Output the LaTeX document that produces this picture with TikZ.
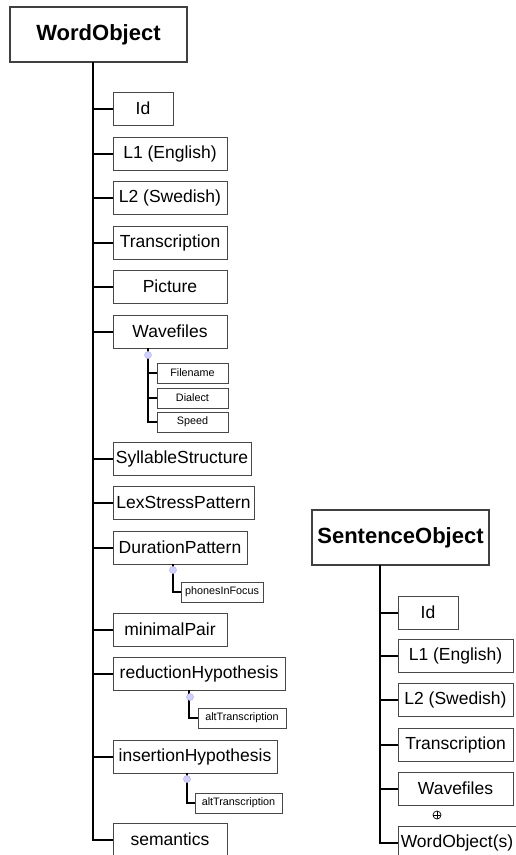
\documentclass[tikz,border=0pt]{standalone}
\usepackage{fontspec}
\setmainfont{Liberation Sans}
\usetikzlibrary{positioning,calc}
\tikzset{
  root/.style={draw=black!75, line width=1.2pt, outer sep=0pt, font=\fontsize{22}{26}\selectfont\bfseries, minimum width=177pt, minimum height=55pt, inner sep=2pt},
  field/.style={draw=black!72, line width=1pt, outer sep=0pt, font=\fontsize{17.5}{20}\selectfont, minimum height=33pt, inner sep=1pt},
  subfield/.style={draw=black!72, line width=0.8pt, outer sep=0pt, font=\fontsize{10.8}{12}\selectfont, minimum height=20pt, inner sep=1pt},
  trunk/.style={line width=2pt},
  twig/.style={line width=1.5pt},
  hint/.style={circle, fill=blue!18, draw=blue!30, line width=0.5pt, minimum size=7pt, inner sep=0pt},
  more/.style={circle, draw, line width=0.7pt, minimum size=8pt, inner sep=0pt,
    path picture={\draw[line width=0.6pt] (path picture bounding box.north) -- (path picture bounding box.south)
      (path picture bounding box.west) -- (path picture bounding box.east);}},
}
\begin{document}
\begin{tikzpicture}[x=1pt, y=-1pt]
  \useasboundingbox (0,0) rectangle (516,855);
  \clip (0,0) rectangle (516,855);
  % word object
  \node[root, anchor=north west] (word) at (10,7) {WordObject};
  \node[field, anchor=north west, minimum width=60pt] (id) at (113,92) {Id};
  \node[field, below=12pt of id.south west, anchor=north west, minimum width=114pt] (l1) {L1 (English)};
  \node[field, below=11pt of l1.south west, anchor=north west, minimum width=114pt] (l2) {L2 (Swedish)};
  \node[field, below=12pt of l2.south west, anchor=north west, minimum width=114pt] (trans) {Transcription};
  \node[field, below=11pt of trans.south west, anchor=north west, minimum width=114pt] (pic) {Picture};
  \node[field, below=12pt of pic.south west, anchor=north west, minimum width=114pt] (wave) {Wavefiles};
  \node[subfield, below right=15pt and 44pt of wave.south west, minimum width=71pt] (fname) {Filename};
  \node[subfield, below=5pt of fname, minimum width=71pt] (dialect) {Dialect};
  \node[subfield, below=4pt of dialect, minimum width=71pt] (speed) {Speed};
  \node[field, below=94pt of wave.south west, anchor=north west, minimum width=138pt] (syll) {SyllableStructure};
  \node[field, below=11pt of syll.south west, anchor=north west, minimum width=141pt] (lex) {LexStressPattern};
  \node[field, below=12pt of lex.south west, anchor=north west, minimum width=134pt] (dur) {DurationPattern};
  \node[subfield, below right=18pt and 68pt of dur.south west, minimum width=82pt] (phones) {phonesInFocus};
  \node[field, below=49pt of dur.south west, anchor=north west, minimum width=114pt] (minpair) {minimalPair};
  \node[field, below=11pt of minpair.south west, anchor=north west, minimum width=172pt] (red) {reductionHypothesis};
  \node[subfield, below right=18pt and 85pt of red.south west, minimum width=88pt] (redalt) {altTranscription};
  \node[field, below=50pt of red.south west, anchor=north west, minimum width=164pt] (ins) {insertionHypothesis};
  \node[subfield, below right=20pt and 82pt of ins.south west, minimum width=87pt] (insalt) {altTranscription};
  \node[field, below=50pt of ins.south west, anchor=north west, minimum width=114pt] (sem) {semantics};
  % sentence object
  \node[root, anchor=north west] (sent) at (312,510) {SentenceObject};
  \node[field, anchor=north west, minimum width=60pt] (sid) at (398,596) {Id};
  \node[field, below=10pt of sid.south west, anchor=north west, minimum width=115pt] (sl1) {L1 (English)};
  \node[field, below=11pt of sl1.south west, anchor=north west, minimum width=115pt] (sl2) {L2 (Swedish)};
  \node[field, below=12pt of sl2.south west, anchor=north west, minimum width=115pt] (strans) {Transcription};
  \node[field, below=11pt of strans.south west, anchor=north west, minimum width=115pt] (swave) {Wavefiles};
  \node[field, below=21pt of swave.south west, anchor=north west, minimum width=118pt] (swobj) {WordObject(s)};
  % tree lines
  \coordinate (wt) at ($(word.south west)+(83,0)$);
  \draw[trunk] (wt) |- (sem.west);
  \foreach \n in {id,l1,l2,trans,pic,wave,syll,lex,dur,minpair,red,ins}
    \draw[trunk] (wt |- \n.west) -- (\n.west);
  \coordinate (wvt) at ($(wave.south west)+(35,0)$);
  \draw[twig] (wvt) |- (speed.west);
  \draw[twig] (wvt |- fname.west) -- (fname.west);
  \draw[twig] (wvt |- dialect.west) -- (dialect.west);
  \coordinate (dut) at ($(dur.south west)+(60,0)$);
  \draw[twig] (dut) |- (phones.west);
  \coordinate (ret) at ($(red.south west)+(76,0)$);
  \draw[twig] (ret) |- (redalt.west);
  \coordinate (iht) at ($(ins.south west)+(74,0)$);
  \draw[twig] (iht) |- (insalt.west);
  \node[hint] (wvdot) at ($(wvt)+(0,7)$) {};
  \node[hint] (dudot) at ($(dut)+(0,6)$) {};
  \node[hint] (redot) at ($(ret)+(1,7)$) {};
  \node[hint] (ihdot) at ($(iht)+(0,6)$) {};
  \coordinate (st) at ($(sent.south west)+(68,0)$);
  \draw[trunk] (st) |- (swobj.west);
  \foreach \n in {sid,sl1,sl2,strans,swave}
    \draw[trunk] (st |- \n.west) -- (\n.west);
  \node[more] (swplus) at ($(swave.south west)+(39,10)$) {};
\end{tikzpicture}
\end{document}
